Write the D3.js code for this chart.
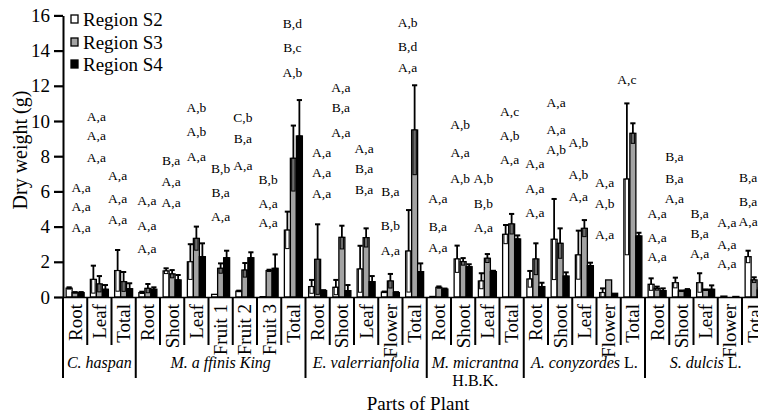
<!DOCTYPE html>
<html><head><meta charset="utf-8">
<script src="https://cdn.jsdelivr.net/npm/d3@7"></script>
<style>
html,body{margin:0;padding:0;background:#fff;}
svg{display:block;}
svg text{font-family:"Liberation Serif","Times New Roman",serif;}
</style></head><body>
<svg id="chart" width="758" height="415" font-family="Liberation Serif, serif"></svg>
<script>
// ---------- data ----------
const categories = ["Root","Leaf","Total",
  "Root","Shoot","Leaf","Fruit 1","Fruit 2","Fruit 3","Total",
  "Root","Shoot","Leaf","Flower","Total",
  "Root","Shoot","Leaf","Total",
  "Root","Shoot","Leaf","Flower","Total",
  "Root","Shoot","Leaf","Flower","Total"];
const speciesNames = ["C. haspan","M. a ffinis King","E. valerrianfolia","M. micrantna","A. conyzordes","S. dulcis"];
const speciesSuffix = ["","","",""," L."," L."];
const speciesLine2 = ["","","","H.B.K.","",""];
const speciesSizes = [3,7,5,4,5,5];
const seriesNames = ["Region S2","Region S3","Region S4"];
const yTicks = [0,2,4,6,8,10,12,14,16];

const s2    = [0.50,1.00,1.50, 0.25,1.48,2.00,0.15,0.33,0.02,3.80, 0.59,0.55,1.59,0.28,2.61, 0.03,2.16,0.91,3.56, 1.02,3.28,2.39,0.25,6.70, 0.72,0.81,0.81,0.05,2.29];
const s2Err = [0.05,0.78,1.17, 0.05,0.15,1.00,0.00,0.03,0.00,1.05, 0.38,0.42,1.32,0.03,2.33, 0.00,0.76,0.44,0.53, 0.46,2.29,1.38,0.24,4.30, 0.34,0.29,0.54,0.00,0.34];
const s3    = [0.25,0.74,0.87, 0.49,1.31,3.33,1.63,1.53,1.50,7.88, 2.14,3.39,3.37,0.91,9.49, 0.55,2.01,2.20,4.15, 2.16,3.05,3.90,0.97,9.30, 0.49,0.34,0.40,0.00,0.97];
const s3Err = [0.03,0.45,0.55, 0.25,0.22,0.67,0.28,0.40,0.05,1.86, 1.99,0.66,0.53,0.40,2.54, 0.05,0.20,0.24,0.57, 0.89,0.85,0.47,0.00,0.57, 0.10,0.03,0.03,0.00,0.15];
const s4    = [0.25,0.44,0.47, 0.44,0.97,2.29,2.23,2.23,1.63,9.15, 0.36,0.36,0.87,0.25,1.44, 0.45,1.72,1.44,3.30, 0.59,1.19,1.78,0.21,3.47, 0.36,0.40,0.44,0.03,0.40];
const s4Err = [0.03,0.24,0.31, 0.11,0.28,0.76,0.40,0.31,0.79,2.04, 0.03,0.32,0.32,0.03,0.47, 0.03,0.14,0.05,0.20, 0.22,0.21,0.17,0.00,0.18, 0.13,0.05,0.22,0.00,0.10];

// significance letters above each category (top to bottom) and the weight level they sit at
const annotLabels = [
  ["A,a","A,a","A,a"],["A,a","A,a","A,a"],["A,a","A,a","A,a"],
  ["A,a","A,a","A,a"],["B,a","A,a","A,a"],["A,b","A,b","A,a"],["B,b","B,a","A,a"],["C,b","B,a","A,a"],["B,b","A,a","A,a"],["B,d","B,c","A,b"],
  ["A,a","A,a","A,a"],["A,a","B,a","A,a"],["A,a","B,a","B,a"],["B,a","B,b","A,a"],["A,b","B,d","A,a"],
  ["A,a","B,a","A,a"],["A,b","A,a","A,b"],["A,b","B,b","A,a"],["A,c","A,b","A,a"],
  ["A,a","A,a","A,a"],["A,a","A,a","A,b"],["A,b","A,b","A,a"],["A,a","A,b","A,a"],["A,c"],
  ["A,a","A,a","A,a"],["B,a","B,a","A,a"],["B,a","B,a","A,a"],["A,a","A,a","A,a"],["B,a","B,a","A,a"]];
const annotLevels = [
  [6.25,5.17,3.98],[10.28,9.20,7.95],[6.93,5.63,4.43],
  [5.51,4.09,2.78],[7.78,6.59,5.40],[10.80,9.43,8.01],[7.33,5.97,4.60],[10.23,9.00,7.50],[6.70,5.34,4.26],[15.57,14.20,12.78],
  [8.24,7.10,5.91],[11.93,10.80,9.38],[8.47,7.33,6.14],[6.02,4.09,2.67],[15.63,14.26,13.07],
  [5.63,4.03,2.84],[9.83,8.24,6.76],[6.76,5.34,3.98],[10.57,9.20,7.84],
  [7.61,6.19,4.83],[11.08,9.55,8.41],[8.81,6.99,5.74],[6.53,5.34,3.58],[12.39],
  [4.77,3.41,2.33],[8.01,6.76,5.63],[4.77,3.64,2.50],[4.26,3.01,1.93],[6.82,5.45,4.32]];

// ---------- layout (not data) ----------
const annotShift = [6,-3,-6, -1,-1,0,0,-2,-1,-1, 4,-1,-2,0,-7, -1,-3,-4,-2, -1,-4,-6,-4,-6, 0,-7,-6,-3,-6];
const X0 = 63, STEP = 24.25, Y0 = 297, Y16 = 15.4;
const FONT = "Liberation Serif, Times New Roman, serif";
const fills = ["#ffffff","#a3a3a3","#000000"];
const innerFills = ["#ffffff","#6c6c6c","#000000"];

const values = [s2,s3,s4], errors = [s2Err,s3Err,s4Err];
const svg = d3.select("#chart");
const x = d3.scaleBand(d3.range(categories.length), [X0, X0 + STEP*categories.length]);
const xs = d3.scaleBand([0,1,2], [0, x.bandwidth()]).paddingInner(0).paddingOuter(0.52);
const y = d3.scaleLinear([0,16],[Y0,Y16]);

// annotations
const ag = svg.append("g").attr("font-size","13.5px").attr("font-family",FONT).attr("text-anchor","middle");
annotLabels.forEach((labs,i)=>{
  labs.forEach((t,j)=>{
    ag.append("text").attr("x", x(i)+x.bandwidth()/2 + annotShift[i])
      .attr("y", y(annotLevels[i][j])).attr("dy","0.35em").text(t);
  });
});

// bars
const bg = svg.append("g");
categories.forEach((c,i)=>{
  [0,1,2].forEach(k=>{
    const v = values[k][i], e = errors[k][i];
    const bx = x(i)+xs(k), bw = xs.bandwidth();
    if (v <= 0) return;
    bg.append("rect").attr("x",bx).attr("y",y(v)).attr("width",bw).attr("height",y(0)-y(v))
      .attr("fill",fills[k]).attr("stroke","#000").attr("stroke-width",1.3);
    if (e > 0) {
      const lo = Math.max(0, v-e);
      bg.append("rect").attr("x",bx+1.3).attr("y",y(v)).attr("width",bw-2.6).attr("height",y(lo)-y(v))
        .attr("fill",innerFills[k]).attr("stroke","#000").attr("stroke-width",1);
      const cx = bx + bw/2;
      bg.append("line").attr("x1",cx).attr("x2",cx).attr("y1",y(v)).attr("y2",y(v+e))
        .attr("stroke","#000").attr("stroke-width",1.8);
      bg.append("line").attr("x1",cx-2.6).attr("x2",cx+2.6).attr("y1",y(v+e)).attr("y2",y(v+e))
        .attr("stroke","#000").attr("stroke-width",2);
    }
  });
});

// x axis (category labels)
const xa = svg.append("g").attr("transform",`translate(0,${Y0})`)
  .call(d3.axisBottom(x).tickSize(0).tickSizeOuter(0).tickFormat(i=>categories[i]));
xa.attr("font-family",FONT);
xa.select(".domain").attr("stroke-width",1.6);
xa.selectAll("text").attr("font-size","19px").attr("font-family",FONT)
  .attr("fill","#000").attr("transform","rotate(-90)")
  .attr("x",-7).attr("y",6.5).attr("dy","0").attr("text-anchor","end");

// dividers
const bounds = [0];
speciesSizes.forEach(s=>bounds.push(bounds[bounds.length-1]+s));
d3.range(categories.length+1).forEach(b=>{
  const long = bounds.includes(b);
  const bx = b < categories.length ? x(b) : x(b-1)+STEP;
  svg.append("line").attr("x1",bx).attr("x2",bx).attr("y1",Y0).attr("y2",long?378:345)
    .attr("stroke","#000").attr("stroke-width",2);
});

// species labels
speciesNames.forEach((n,s)=>{
  const cx = (x(bounds[s]) + (bounds[s+1] < categories.length ? x(bounds[s+1]) : X0+STEP*categories.length))/2;
  const t = svg.append("text").attr("x",cx).attr("y",368).attr("text-anchor","middle")
    .attr("font-size","16px").attr("font-family",FONT);
  t.append("tspan").attr("font-style","italic").text(n);
  if (speciesSuffix[s]) t.append("tspan").text(speciesSuffix[s]);
  if (speciesLine2[s]) svg.append("text").attr("x",cx).attr("y",386).attr("text-anchor","middle")
    .attr("font-size","16px").attr("font-family",FONT).text(speciesLine2[s]);
});

// y axis
const ya = svg.append("g").attr("transform",`translate(${X0},0)`)
  .call(d3.axisLeft(y).tickValues(yTicks).tickSize(9).tickSizeOuter(0).tickPadding(4));
ya.attr("font-family",FONT);
ya.select(".domain").attr("stroke-width",2);
ya.selectAll(".tick line").attr("stroke-width",2.2);
ya.selectAll("text").attr("font-size","19px").attr("font-family",FONT).attr("fill","#000");

// legend
seriesNames.forEach((n,k)=>{
  const ly = [26,49,71][k];
  svg.append("rect").attr("x",71).attr("y",ly-11).attr("width",7).attr("height",8)
    .attr("fill",fills[k]).attr("stroke","#000").attr("stroke-width",1.3);
  svg.append("text").attr("x",83).attr("y",ly).attr("font-size","19px").attr("font-family",FONT).text(n);
});

// titles
svg.append("text").attr("x",418).attr("y",410).attr("text-anchor","middle").attr("font-size","19px")
  .attr("font-family",FONT).text("Parts of Plant");
svg.append("text").attr("transform","translate(27,150) rotate(-90)").attr("text-anchor","middle")
  .attr("font-size","20px").attr("font-family",FONT).text("Dry weight (g)");
</script>
</body></html>
